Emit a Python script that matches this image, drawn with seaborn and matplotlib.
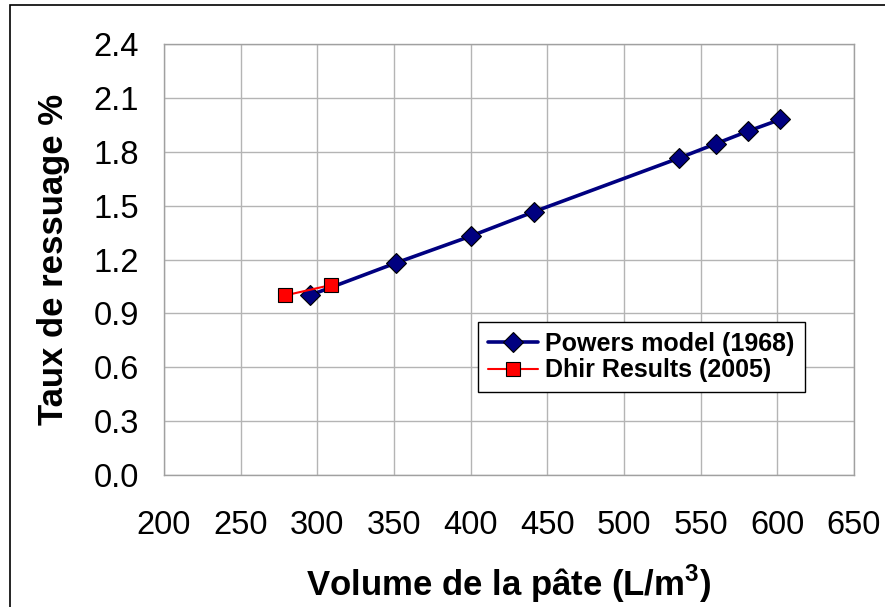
import matplotlib
matplotlib.use("Agg")
import matplotlib.pyplot as plt
import matplotlib.patches as mpatches
import seaborn as sns

powers_x = [295, 351, 400, 441, 536, 560, 581, 602]
powers_y = [1.00, 1.18, 1.33, 1.465, 1.765, 1.845, 1.915, 1.98]
dhir_x = [279, 309]
dhir_y = [1.00, 1.058]
x_ticks = [200, 250, 300, 350, 400, 450, 500, 550, 600, 650]
y_ticks = [0.0, 0.3, 0.6, 0.9, 1.2, 1.5, 1.8, 2.1, 2.4]

sns.set_style("white")
plt.rcParams['font.family'] = ['Liberation Sans', 'DejaVu Sans']
plt.rcParams['text.color'] = 'black'
plt.rcParams['axes.labelcolor'] = 'black'
plt.rcParams['mathtext.fontset'] = 'custom'
plt.rcParams['mathtext.rm'] = 'Liberation Sans'
plt.rcParams['mathtext.bf'] = 'Liberation Sans:bold'

fig = plt.figure(figsize=(8.85, 6.07), dpi=100)
ax = fig.add_axes([164/885, 1-475/607, 690/885, 431/607])

sns.lineplot(x=powers_x, y=powers_y, ax=ax, color='#000080', linewidth=2.6,
             marker='D', markersize=10, markerfacecolor='#000080',
             markeredgecolor='black', markeredgewidth=0.8,
             label='Powers model (1968)', zorder=3)
sns.lineplot(x=dhir_x, y=dhir_y, ax=ax, color='#ff0000', linewidth=1.5,
             marker='s', markersize=10, markerfacecolor='#ff0000',
             markeredgecolor='black', markeredgewidth=0.8,
             label='Dhir Results (2005)', zorder=4)

ax.set_xlim(200, 650)
ax.set_ylim(0, 2.4)
ax.set_xticks(x_ticks)
ax.set_yticks(y_ticks)
ax.set_xticklabels([str(v) for v in x_ticks])
ax.set_yticklabels([f"{v:.1f}" for v in y_ticks])
ax.grid(True, color='#b4b4b4', linewidth=1.0)
for s in ax.spines.values():
    s.set_color('#a0a0a0')
    s.set_linewidth(1.0)
ax.tick_params(axis='both', which='both', direction='out', length=5, width=1,
               color='#a0a0a0', labelsize=23.5, labelcolor='black')
ax.tick_params(axis='x', pad=20)
ax.tick_params(axis='y', pad=13)

ax.set_xlabel('Volume de la pâte (L/m$^{\\mathbf{3}}$)', fontsize=25, fontweight='bold', labelpad=16)
ax.set_ylabel('Taux de ressuage %', fontsize=25, fontweight='bold', labelpad=17)

leg = ax.legend(loc='upper left', bbox_to_anchor=(0.455, 0.355), frameon=True,
                fancybox=False, edgecolor='black', framealpha=1,
                prop={'weight': 'bold', 'size': 18}, handlelength=2.0,
                borderpad=0.4, labelspacing=0.1, handletextpad=0.3,
                borderaxespad=0)
leg.get_frame().set_linewidth(1.0)

rect = mpatches.Rectangle((10/885, -0.01), 1.0, 1-5/607 + 0.01, transform=fig.transFigure,
                          fill=False, edgecolor='black', linewidth=1.2)
fig.patches.append(rect)

fig.savefig('out.png', dpi=100)
